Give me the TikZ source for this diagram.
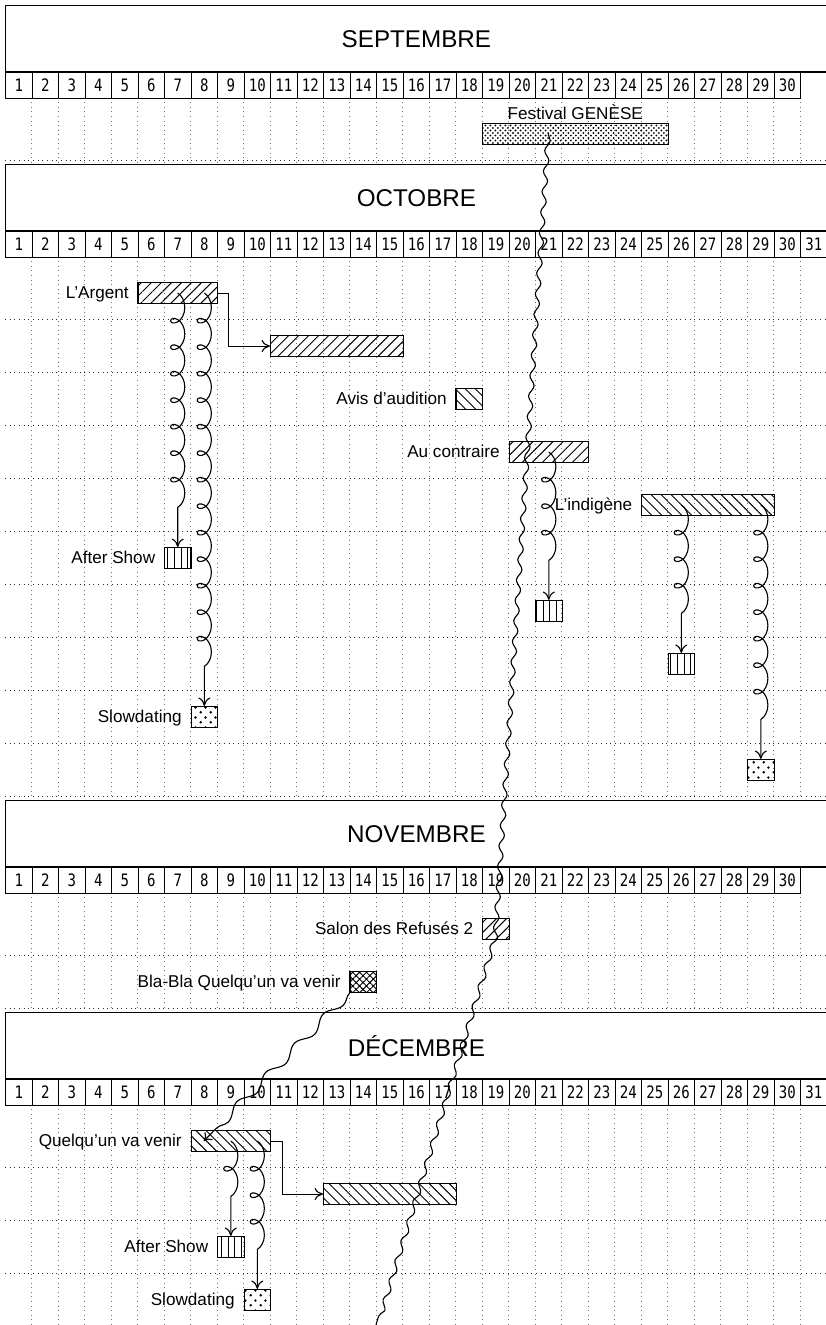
\documentclass[tikz,border=0pt]{standalone}
\usepackage{fontspec}
\setmainfont{Liberation Sans}
\newfontfamily\daymono[FakeStretch=0.82]{DejaVu Sans Mono}
\usetikzlibrary{patterns,patterns.meta,decorations.pathmorphing,arrows.meta,calc}

\pgfdeclarepatternformonly{festdots}{\pgfqpoint{-1pt}{-1pt}}{\pgfqpoint{2.4pt}{2.4pt}}{\pgfqpoint{2.7pt}{2.7pt}}{%
  \pgfpathcircle{\pgfqpoint{0pt}{0pt}}{0.55pt}%
  \pgfpathcircle{\pgfqpoint{1.35pt}{1.35pt}}{0.55pt}%
  \pgfusepath{fill}}
\pgfdeclarepatternformonly{slowdots}{\pgfqpoint{-1pt}{-1pt}}{\pgfqpoint{4.4pt}{4.4pt}}{\pgfqpoint{5.4pt}{5.4pt}}{%
  \pgfpathcircle{\pgfqpoint{0pt}{0pt}}{0.75pt}%
  \pgfpathcircle{\pgfqpoint{2.7pt}{2.7pt}}{0.75pt}%
  \pgfusepath{fill}}

\tikzset{
  titlebox/.style={draw, line width=0.7pt, minimum width=15.5cm, minimum height=1.25cm,
    inner sep=0pt, anchor=north west, font=\fontsize{13}{15}\selectfont},
  daycell/.style={draw, line width=0.7pt, minimum width=0.5cm, minimum height=0.5cm,
    inner sep=0pt, anchor=north west, font=\daymono\fontsize{9.2}{10}\selectfont},
  vgrid/.style={dotted, line width=0.45pt, black!55},
  hgrid/.style={dotted, line width=0.5pt, black!85},
  bar/.style={draw, line width=0.6pt, minimum height=0.4cm, inner sep=0pt, anchor=west},
  ne/.style={pattern={Lines[angle=45,distance=3.8pt,line width=0.5pt]}},
  nw/.style={pattern={Lines[angle=-45,distance=3.8pt,line width=0.5pt]}},
  vl/.style={pattern={Lines[angle=90,distance=3.6pt,line width=0.5pt]}},
  xh/.style={pattern={Hatch[angle=45,distance=2.6pt,line width=0.5pt]}},
  fd/.style={pattern=festdots},
  sd/.style={pattern=slowdots},
  lbl/.style={anchor=base east, inner sep=0pt, font=\fontsize{9.2}{11}\selectfont},
  toplbl/.style={anchor=base, inner sep=0pt, font=\fontsize{9.2}{11}\selectfont},
  elbow/.style={draw, line width=0.6pt, -{To[length=4.5pt,width=6.5pt]}},
  coillink/.style={draw, line width=0.6pt, -{To[length=4.5pt,width=6.5pt]}, decorate,
    decoration={coil, amplitude=3.8pt, aspect=1.1, segment length=0.5cm, post length=8pt}},
  wavelink/.style={draw, line width=0.6pt, decorate,
    decoration={snake, amplitude=1.3pt, segment length=11pt}},
  blalink/.style={draw, line width=0.6pt, -{To[length=4pt,width=6pt]}, decorate,
    decoration={snake, amplitude=2.2pt, segment length=22pt, post length=4pt}},
}

\begin{document}
\begin{tikzpicture}[x=0.5cm,y=-0.5cm]
\useasboundingbox (-0.1887,-0.1887) rectangle (30.981,49.811);

% ---------------- grids ----------------
% September
\foreach \k in {1,...,31} \draw[vgrid] (\k,3.5) -- (\k,5.95);
\draw[hgrid] (0,5.87) -- (31,5.87);
% October
\foreach \k in {1,...,31} \draw[vgrid] (\k,9.5) -- (\k,29.95);
\foreach \r in {1,...,10} \draw[hgrid] (0,9.87+2*\r) -- (31,9.87+2*\r);
% November
\foreach \k in {1,...,31} \draw[vgrid] (\k,33.5) -- (\k,37.95);
\foreach \r in {1,2} \draw[hgrid] (0,33.87+2*\r) -- (31,33.87+2*\r);
% December
\foreach \k in {1,...,31} \draw[vgrid] (\k,41.5) -- (\k,49.9);
\foreach \r in {1,...,4} \draw[hgrid] (0,41.87+2*\r) -- (31,41.87+2*\r);

% ---------------- titles and days ----------------
\node[titlebox] (septT) at (0,0) {SEPTEMBRE};
\foreach \d in {1,...,30} \node[daycell] (sep\d) at (\d-1,2.5) {\d};
\node[titlebox] (octT) at (0,6) {OCTOBRE};
\foreach \d in {1,...,31} \node[daycell] (oct\d) at (\d-1,8.5) {\d};
\node[titlebox] (novT) at (0,30) {NOVEMBRE};
\foreach \d in {1,...,30} \node[daycell] (nov\d) at (\d-1,32.5) {\d};
\node[titlebox] (decT) at (0,38) {DÉCEMBRE};
\foreach \d in {1,...,31} \node[daycell] (dec\d) at (\d-1,40.5) {\d};

% ---------------- bars ----------------
% September
\node[bar, fd, minimum width=3.5cm] (fest) at (18,4.87) {};
\node[toplbl] (festL) at ($(fest.north)+(0,-0.13)$) {Festival GENÈSE};
% October
\node[bar, ne, minimum width=1.5cm] (argent) at (5,10.87) {};
\node[lbl] (argentL) at ($(argent.west)+(-0.32,0.2)$) {L’Argent};
\node[bar, ne, minimum width=2.5cm] (argbis) at (10,12.87) {};
\node[bar, nw, minimum width=0.5cm] (avis) at (17,14.87) {};
\node[lbl] (avisL) at ($(avis.west)+(-0.32,0.2)$) {Avis d’audition};
\node[bar, ne, minimum width=1.5cm] (aucontraire) at (19,16.87) {};
\node[lbl] (aucontraireL) at ($(aucontraire.west)+(-0.32,0.2)$) {Au contraire};
\node[bar, nw, minimum width=2.5cm] (indigene) at (24,18.87) {};
\node[lbl] (indigeneL) at ($(indigene.west)+(-0.32,0.2)$) {L’indigène};
\node[bar, vl, minimum width=0.5cm] (as1) at (6,20.87) {};
\node[lbl] (as1L) at ($(as1.west)+(-0.32,0.2)$) {After Show};
\node[bar, vl, minimum width=0.5cm] (m21) at (20,22.87) {};
\node[bar, vl, minimum width=0.5cm] (m26) at (25,24.87) {};
\node[bar, sd, minimum width=0.5cm] (slow1) at (7,26.87) {};
\node[lbl] (slow1L) at ($(slow1.west)+(-0.32,0.2)$) {Slowdating};
\node[bar, sd, minimum width=0.5cm] (slow2) at (28,28.87) {};
% November
\node[bar, ne, minimum width=0.5cm] (salon) at (18,34.87) {};
\node[lbl] (salonL) at ($(salon.west)+(-0.32,0.2)$) {Salon des Refusés 2};
\node[bar, xh, minimum width=0.5cm] (blabla) at (13,36.87) {};
\node[lbl] (blablaL) at ($(blabla.west)+(-0.32,0.2)$) {Bla-Bla Quelqu’un va venir};
% December
\node[bar, nw, minimum width=1.5cm] (qvv) at (7,42.87) {};
\node[lbl] (qvvL) at ($(qvv.west)+(-0.32,0.2)$) {Quelqu’un va venir};
\node[bar, nw, minimum width=2.5cm] (dbar) at (12,44.87) {};
\node[bar, vl, minimum width=0.5cm] (as2) at (8,46.87) {};
\node[lbl] (as2L) at ($(as2.west)+(-0.32,0.2)$) {After Show};
\node[bar, sd, minimum width=0.5cm] (slow3) at (9,48.87) {};
\node[lbl] (slow3L) at ($(slow3.west)+(-0.32,0.2)$) {Slowdating};

% ---------------- links ----------------
\draw[elbow] (argent.east) -- ++(0.4,0) |- (argbis.west);
\draw[elbow] (qvv.east) -- ++(0.42,0) |- (dbar.west);

\draw[coillink] (argent.center) -- (as1.north);
\draw[coillink] (slow1.north |- argent.center) -- (slow1.north);
\draw[coillink] (aucontraire.center) -- (m21.north);
\draw[coillink] (m26.north |- indigene.center) -- (m26.north);
\draw[coillink] (slow2.north |- indigene.center) -- (slow2.north);
\draw[coillink] (as2.north |- qvv.center) -- (as2.north);
\draw[coillink] (slow3.north |- qvv.center) -- (slow3.north);

\coordinate (feststart) at ($(fest.west)+(2.5,0)$);
\coordinate (waveend) at (14.0,49.8);
\draw[wavelink] (feststart) -- (salon.center) -- (waveend);

\coordinate (qvvin) at ($(qvv.west)+(0.5,0)$);
\draw[blalink] (blabla.south west) -- (qvvin);
\end{tikzpicture}
\end{document}
